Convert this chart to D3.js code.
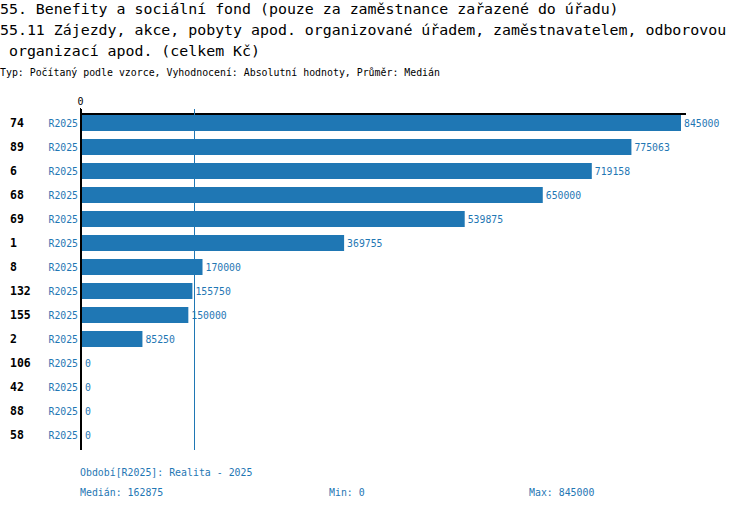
<!DOCTYPE html>
<html>
<head>
<meta charset="utf-8">
<script src="https://cdn.jsdelivr.net/npm/d3@7"></script>
<style>
html,body{margin:0;padding:0;background:#fff;}
svg{display:block;}
text{font-family:'DejaVu Sans Mono',monospace;white-space:pre;}
</style>
</head>
<body>
<svg id="chart" width="750" height="510"></svg>
<script>
const titleLines = [
  "55. Benefity a sociální fond (pouze za zaměstnance zařazené do úřadu)",
  "55.11 Zájezdy, akce, pobyty apod. organizované úřadem, zaměstnavatelem, odborovou",
  " organizací apod. (celkem Kč)"
];
const subtitle = "Typ: Počítaný podle vzorce, Vyhodnocení: Absolutní hodnoty, Průměr: Medián";
const categories = ["74","89","6","68","69","1","8","132","155","2","106","42","88","58"];
const seriesName = "R2025";
const values = [845000,775063,719158,650000,539875,369755,170000,155750,150000,85250,0,0,0,0];
const xTicks = [0];
const medianValue = 162875;
const minValue = 0;
const maxValue = 845000;
const footerPeriod = "Období[R2025]: Realita - 2025";

const blue = "#1f77b4";
const svg = d3.select("#chart");

// titles
const titleY = [14, 35, 56];
titleLines.forEach((t,i)=>{
  svg.append("text").attr("x",0).attr("y",titleY[i])
    .attr("font-size","14.9px").attr("fill","#000").text(t);
});
svg.append("text").attr("x",0).attr("y",76).attr("font-size","9.9px").attr("fill","#000").text(subtitle);

const x = d3.scaleLinear().domain([0, maxValue]).range([82, 681]);
const y = d3.scaleBand().domain(categories).range([111, 447]).paddingInner(1/3).paddingOuter(1/6);

// top axis
const axTop = svg.append("g").attr("transform","translate(0,114)")
  .call(d3.axisTop(x).tickValues(xTicks).tickSize(6).tickSizeOuter(0).tickFormat(d3.format("d")));
axTop.select(".domain").attr("d","M80,0H686").attr("stroke","#000").attr("stroke-width",2);
axTop.selectAll(".tick line").attr("stroke","#000").attr("transform","translate(-2,0)");
axTop.selectAll(".tick text").attr("font-family","'DejaVu Sans Mono',monospace").attr("font-size","10px").attr("fill","#000").attr("dx","-2");

// bars
svg.append("g").selectAll("rect").data(values).join("rect")
  .attr("x", x(0))
  .attr("y", (d,i)=>y(categories[i]))
  .attr("width", d=>x(d)-x(0))
  .attr("height", y.bandwidth())
  .attr("fill", blue);

// median line
svg.append("line").attr("x1", Math.round(x(medianValue))-2.5).attr("x2", Math.round(x(medianValue))-2.5)
  .attr("y1",109).attr("y2",450).attr("stroke",blue).attr("stroke-width",1);

// left axis line
svg.append("g").attr("transform","translate(81,0)")
  .call(d3.axisLeft(y).tickSize(0).tickFormat(""))
  .select(".domain").attr("d","M0,109V450").attr("stroke","#000").attr("stroke-width",2);

// category labels
svg.append("g").selectAll("text").data(categories).join("text")
  .attr("x",10).attr("y",d=>y(d)+y.bandwidth()/2)
  .attr("dy","0.36em").attr("font-size","11.5px").attr("font-weight","bold").attr("fill","#000")
  .text(d=>d);

// series labels
svg.append("g").selectAll("text").data(categories).join("text")
  .attr("x",78).attr("y",d=>y(d)+y.bandwidth()/2)
  .attr("dy","0.36em").attr("text-anchor","end").attr("font-size","9.8px").attr("fill",blue)
  .text(seriesName);

// value labels
svg.append("g").selectAll("text").data(values).join("text")
  .attr("x",d=>x(d)+3).attr("y",(d,i)=>y(categories[i])+y.bandwidth()/2)
  .attr("dy","0.36em").attr("font-size","9.8px").attr("fill",blue)
  .text(d=>d);

// footer
svg.append("text").attr("x",80).attr("y",476).attr("font-size","9.9px").attr("fill",blue).text(footerPeriod);
svg.append("text").attr("x",80).attr("y",496).attr("font-size","9.9px").attr("fill",blue).text("Medián: "+medianValue);
svg.append("text").attr("x",329).attr("y",496).attr("font-size","9.9px").attr("fill",blue).text("Min: "+minValue);
svg.append("text").attr("x",529).attr("y",496).attr("font-size","9.9px").attr("fill",blue).text("Max: "+maxValue);
</script>
</body>
</html>
